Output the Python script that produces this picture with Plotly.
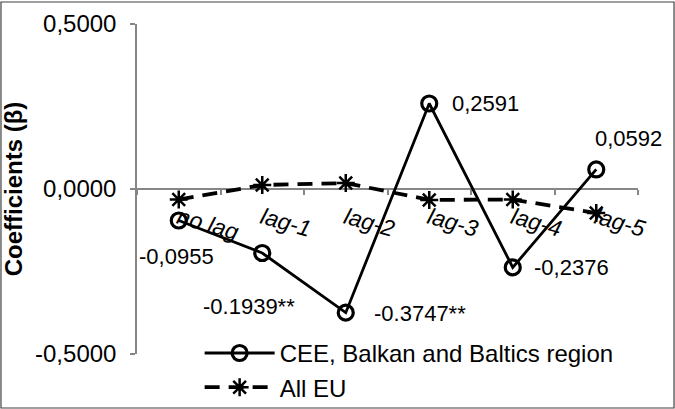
import plotly.graph_objects as go

categories = ["no lag", "lag-1", "lag-2", "lag-3", "lag-4", "lag-5"]
cee_values = [-0.0955, -0.1939, -0.3747, 0.2591, -0.2376, 0.0592]
eu_values = [-0.032, 0.012, 0.018, -0.033, -0.032, -0.073]
cee_labels = ["-0,0955", "-0.1939**", "-0.3747**", "0,2591", "-0,2376", "0,0592"]
y_ticks = [-0.5, 0.0, 0.5]
y_tick_labels = ["-0,5000", "0,0000", "0,5000"]

FONT = "Liberation Sans, Arial, sans-serif"

fig = go.Figure()
fig.add_trace(go.Scatter(
    x=categories, y=cee_values, mode="lines+markers",
    name="CEE, Balkan and Baltics region", legendgroup="a",
    line=dict(color="black", width=2.8),
    marker=dict(symbol="circle-open", size=15, color="black", line=dict(width=3.2)),
))
fig.add_trace(go.Scatter(
    x=categories, y=eu_values, mode="lines+markers",
    name="All EU", legendgroup="b",
    line=dict(color="black", width=3.8, dash="15px,9px"),
    marker=dict(symbol="asterisk-open", size=15, color="black", line=dict(width=2.5, color="black")),
))

# label offsets (pixels) relative to each point
offsets = [(-2, -36), (-13, -54), (74, -1), (56, 0), (59, 0), (32, 31)]
for cat, v, lab, (dx, dy) in zip(categories, cee_values, cee_labels, offsets):
    fig.add_annotation(x=cat, y=v, text=lab, showarrow=False, xshift=dx, yshift=dy,
                       font=dict(family=FONT, size=22, color="black"))

fig.add_shape(type="rect", xref="paper", yref="paper",
              x0=-0.2715, x1=1.0719, y0=-0.1636, y1=1.0667,
              line=dict(color="#404040", width=1.2), layer="above")

fig.update_layout(
    width=675, height=409,
    margin=dict(l=137, r=37, t=24, b=55, autoexpand=False),
    paper_bgcolor="white", plot_bgcolor="white",
    separators=", ",
    font=dict(family=FONT, size=22, color="black"),
    showlegend=True,
    legend=dict(x=0.125, y=0.07, xanchor="left", yanchor="top",
                bgcolor="rgba(0,0,0,0)", font=dict(family=FONT, size=24),
                tracegroupgap=0, itemwidth=70),
    xaxis=dict(
        type="category", range=[-0.5, 5.5], automargin=False,
        anchor="free", position=0.5,
        showline=True, linecolor="#868686", linewidth=1.5,
        ticks="outside", tickson="boundaries", ticklen=5, tickcolor="#868686", tickwidth=1.5,
        tickangle=16, ticklabelstandoff=6,
        tickfont=dict(family=FONT, size=23, style="italic", color="black"),
        showgrid=False, zeroline=False, layer="below traces",
    ),
    yaxis=dict(
        range=[-0.5, 0.5], tickvals=y_ticks, ticktext=y_tick_labels, automargin=False,
        showline=True, linecolor="#868686", linewidth=1.5,
        ticks="outside", ticklen=5, tickcolor="#868686", tickwidth=1.5,
        ticklabelstandoff=9,
        tickfont=dict(family=FONT, size=24, color="black"),
        showgrid=False, zeroline=False,
        title=dict(text="Coefficients (β)", font=dict(family=FONT, size=24, color="black", weight="bold"), standoff=12),
    ),
)

fig.write_html("out.html", config={"displayModeBar": False},
               post_script="document.body.style.margin='0';document.body.style.overflow='hidden';")
